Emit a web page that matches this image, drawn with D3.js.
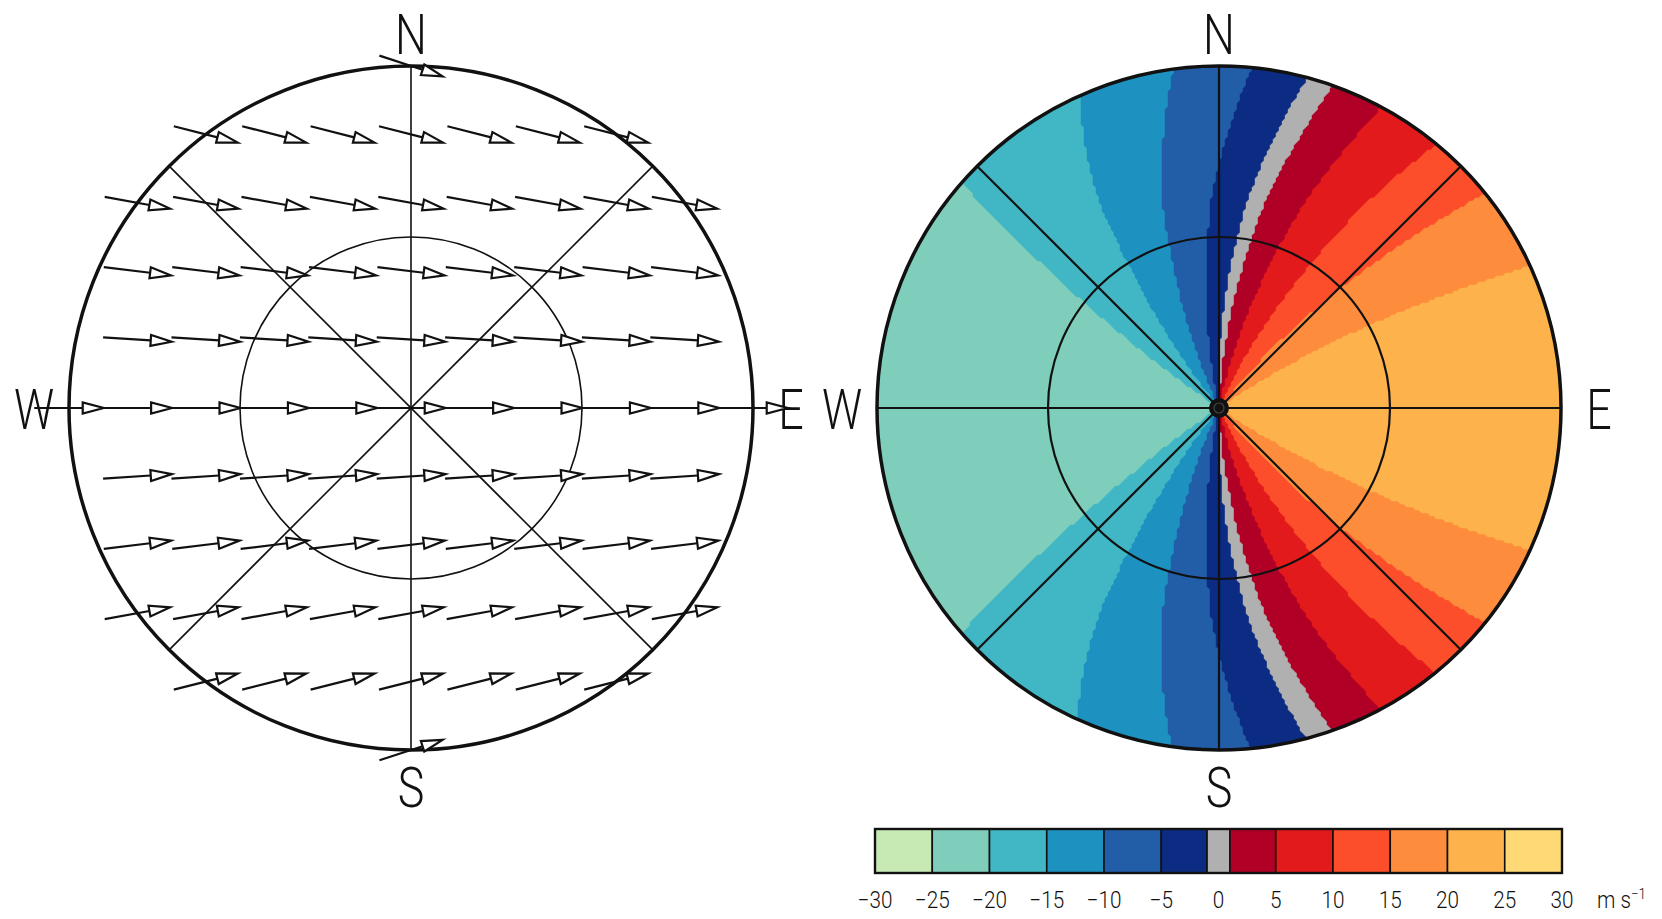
<!DOCTYPE html>
<html>
<head>
<meta charset="utf-8">
<script src="https://cdn.jsdelivr.net/npm/d3@7"></script>
<style>
  html, body { margin: 0; padding: 0; background: #fff; }
  svg { display: block; }
  .lbl { font-family: Roboto, "Liberation Sans", "DejaVu Sans", sans-serif; font-weight: 300; fill: #111; }
</style>
</head>
<body>
<svg id="chart" width="1662" height="919"></svg>
<script>
// Wind grid, in grid units; the outer range ring lies 5 units from the radar.
const gridCols = [-5, -4, -3, -2, -1, 0, 1, 2, 3, 4, 5];   // east-west position, east positive
const gridRows = [5, 4, 3, 2, 1, 0, -1, -2, -3, -4, -5];   // north-south position, north positive
// Wind components along each grid row (m s-1).
const rowU = [22.0, 22.3, 22.8, 23.4, 23.9, 24.2, 23.9, 23.4, 22.8, 22.3, 22.0];
const rowV = [-7.2, -5.7, -4.1, -2.9, -1.5, 0.0, 1.6, 2.9, 4.1, 5.6, 7.1];
// Range rings (grid units).
const ringRadii = [2.5, 5];
// Radial velocity colour levels (m s-1) and fills.
const levels = [-30, -25, -20, -15, -10, -5, -1, 1, 5, 10, 15, 20, 25, 30];
const levelColors = ["#c7e9b4", "#7fcdbb", "#41b6c4", "#1d91c0", "#225ea8", "#0c2c84",
                     "#b0b0b0", "#b10026", "#e31a1c", "#fc4e2a", "#fd8d3c", "#feb24c", "#fed976"];
const tickValues = [-30, -25, -20, -15, -10, -5, 0, 5, 10, 15, 20, 25, 30];

const svg = d3.select("#chart");
const W = 1662, H = 919;
svg.append("rect").attr("width", W).attr("height", H).attr("fill", "#fff");

const R = 342;                       // outer ring radius in px
const panels = [{ cx: 411, cy: 408 }, { cx: 1219, cy: 408 }];
const maxRange = d3.max(ringRadii);
const rScale = d3.scaleLinear().domain([0, maxRange]).range([0, R]);

// Wind as a function of north-south position (piecewise linear between rows).
const order = d3.range(gridRows.length).sort((a, b) => gridRows[a] - gridRows[b]);
const uAt = d3.scaleLinear().domain(order.map(i => gridRows[i])).range(order.map(i => rowU[i])).clamp(true);
const vAt = d3.scaleLinear().domain(order.map(i => gridRows[i])).range(order.map(i => rowV[i])).clamp(true);

const lenScale = d3.scaleLinear().domain([0, 23]).range([0, 66]);

// Narrow lettering.
function label(g, x, y, txt, size, anchor, sx) {
  return g.append("text").attr("class", "lbl")
    .attr("transform", `translate(${x},${y}) scale(${sx || 0.8},1)`)
    .attr("text-anchor", anchor || "middle").attr("dominant-baseline", "central")
    .attr("font-size", size).text(txt);
}

// ---------- common frame: rings, spokes, compass letters ----------
function drawFrame(g, cx, cy, opt) {
  [0, 45, 90, 135].forEach(deg => {
    const a = deg * Math.PI / 180;
    const dx = Math.sin(a) * R, dy = -Math.cos(a) * R;
    g.append("line")
      .attr("x1", cx - dx).attr("y1", cy - dy)
      .attr("x2", cx + dx).attr("y2", cy + dy)
      .attr("stroke", opt.lineColor).attr("stroke-width", opt.lineWidth);
  });
  ringRadii.forEach(rr => {
    g.append("circle").attr("cx", cx).attr("cy", cy).attr("r", rScale(rr))
      .attr("fill", "none").attr("stroke", "#111")
      .attr("stroke-width", rr === maxRange ? opt.outerWidth : opt.lineWidth);
  });
  const off = [{ t: "N", dx: 0, dy: -373 }, { t: "S", dx: 0, dy: 380 },
               { t: "E", dx: 380, dy: 2 }, { t: "W", dx: -377, dy: 2 }];
  off.forEach(o => label(g, cx + o.dx, cy + o.dy, o.t, 56));
}

// ---------- left panel: wind vectors ----------
{
  const { cx, cy } = panels[0];
  const g = svg.append("g");
  drawFrame(g, cx, cy, { lineColor: "#111", lineWidth: 1.6, outerWidth: 3.5 });

  const arrows = [];
  gridRows.forEach((gy, j) => {
    gridCols.forEach(gx => {
      if (Math.hypot(gx, gy) <= maxRange + 1e-9) {
        arrows.push({ gx, gy, u: rowU[j], v: rowV[j] });
      }
    });
  });

  const head = 21, half = 5.5;
  const ag = g.append("g").attr("stroke", "#111").attr("stroke-width", 2.2).attr("stroke-linejoin", "miter");
  arrows.forEach(d => {
    const px = cx + rScale(d.gx), py = cy - rScale(d.gy);
    const mag = Math.hypot(d.u, d.v);
    const L = lenScale(mag);
    const ux = d.u / mag, uy = -d.v / mag;           // screen direction
    const tx = px - ux * L / 2, ty = py - uy * L / 2;
    const hx = px + ux * L / 2, hy = py + uy * L / 2;
    const bx = hx - ux * head, by = hy - uy * head;
    const nx = -uy, ny = ux;
    ag.append("line").attr("x1", tx).attr("y1", ty).attr("x2", bx).attr("y2", by);
    ag.append("path")
      .attr("d", `M${hx},${hy}L${bx + nx * half},${by + ny * half}L${bx - nx * half},${by - ny * half}Z`)
      .attr("fill", "#fff");
  });
}

// ---------- right panel: radial velocity of the same wind field ----------
{
  const { cx, cy } = panels[1];
  const g = svg.append("g");
  const clipId = "disk";
  svg.append("defs").append("clipPath").attr("id", clipId)
    .append("circle").attr("cx", cx).attr("cy", cy).attr("r", R);

  const cell = 3;
  const n = Math.ceil(2 * R / cell) + 4;
  const x0 = cx - n * cell / 2, y0 = cy - n * cell / 2;
  const values = new Float64Array(n * n);
  for (let j = 0; j < n; j++) {
    for (let i = 0; i < n; i++) {
      const gx = rScale.invert(x0 + (i + 0.5) * cell - cx);
      const gy = rScale.invert(cy - (y0 + (j + 0.5) * cell));
      const r = Math.hypot(gx, gy);
      values[j * n + i] = r < 1e-6 ? 0 : (uAt(gy) * gx + vAt(gy) * gy) / r;
    }
  }
  const contours = d3.contours().size([n, n]).smooth(false)
    .thresholds(levels.slice(1, -1))(values);
  const path = d3.geoPath(d3.geoIdentity().scale(cell).translate([x0, y0]));

  const field = g.append("g").attr("clip-path", `url(#${clipId})`);
  field.append("circle").attr("cx", cx).attr("cy", cy).attr("r", R).attr("fill", levelColors[0]);
  field.selectAll("path").data(contours).join("path")
    .attr("d", path)
    .attr("fill", (d, i) => levelColors[i + 1])
    .attr("stroke", (d, i) => levelColors[i + 1]).attr("stroke-width", 0.4);

  drawFrame(g, cx, cy, { lineColor: "#111", lineWidth: 2.2, outerWidth: 3.5 });
  g.append("circle").attr("cx", cx).attr("cy", cy).attr("r", 10).attr("fill", "#111");
  g.append("circle").attr("cx", cx).attr("cy", cy).attr("r", 5).attr("fill", "none")
    .attr("stroke", "#444").attr("stroke-width", 1.2);
}

// ---------- colour bar ----------
{
  const cb = svg.append("g");
  const x = d3.scaleLinear().domain([levels[0], levels[levels.length - 1]]).range([875, 1562]);
  const top = 829, h = 44;
  cb.selectAll("rect.bin").data(levelColors).join("rect").attr("class", "bin")
    .attr("x", (d, i) => x(levels[i])).attr("y", top)
    .attr("width", (d, i) => x(levels[i + 1]) - x(levels[i])).attr("height", h)
    .attr("fill", d => d).attr("stroke", "#111").attr("stroke-width", 1.6);
  cb.append("rect").attr("x", x.range()[0]).attr("y", top)
    .attr("width", x.range()[1] - x.range()[0]).attr("height", h)
    .attr("fill", "none").attr("stroke", "#111").attr("stroke-width", 2.4);

  const fmt = d3.format("d");
  const ticks = cb.append("g");
  const labelY = top + h + 27;
  tickValues.forEach(v => {
    label(ticks, x(v), labelY, fmt(v), 23, "middle", 0.9).attr("font-weight", 400);
  });
  const unit = label(cb, 1597, labelY, "", 23, "start", 0.9).attr("font-weight", 400);
  unit.append("tspan").text("m s");
  unit.append("tspan").attr("font-size", 15).attr("dy", "-0.45em").text("−1");
}
</script>
</body>
</html>
